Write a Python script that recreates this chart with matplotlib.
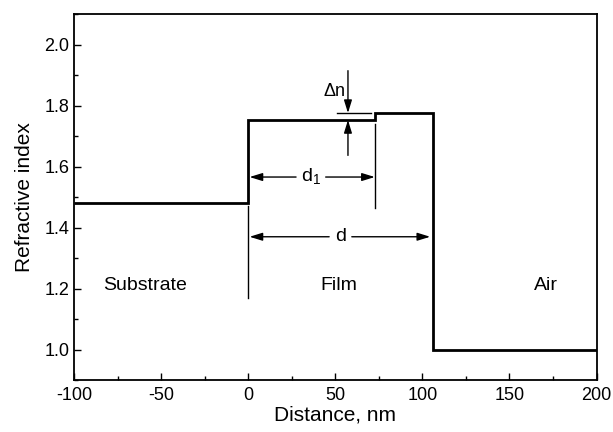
import matplotlib
matplotlib.use("Agg")
import matplotlib.pyplot as plt

plt.rcParams['font.family'] = ['Liberation Sans', 'DejaVu Sans']

# Layer boundaries (nm) and refractive index in each region
edges = [-100, 0, 73, 106, 200]
index = [1.482, 1.753, 1.776, 1.0]

d1 = 73      # thickness of the lower film sublayer, nm
d = 106      # total film thickness, nm

region_labels = ["Substrate", "Film", "Air"]
region_x = [-59, 52, 171]
region_y = 1.21

x_ticks = [-100, -50, 0, 50, 100, 150, 200]
y_ticks = [1.0, 1.2, 1.4, 1.6, 1.8, 2.0]

fig = plt.figure(figsize=(6.13, 4.32), dpi=100)
ax = fig.add_axes([0.1207, 0.1204, 0.8524, 0.8465])

ax.stairs(index, edges, baseline=None, color='black', lw=2.0)

arrow = dict(arrowstyle='-|>,head_length=0.55,head_width=0.17', color='black',
             lw=1.0, shrinkA=0, shrinkB=0, mutation_scale=14)

# thin marker lines at the film boundaries
ax.plot([0, 0], [1.168, 1.472], color='black', lw=1.0)
ax.plot([d1, d1], [1.74, 1.466], color='black', lw=1.0)

# d1 dimension arrow
y_d1 = 1.566
ax.annotate('', xy=(0.8, y_d1), xytext=(27.5, y_d1), arrowprops=arrow)
ax.annotate('', xy=(d1 - 0.3, y_d1), xytext=(44.5, y_d1), arrowprops=arrow)
ax.text(36, y_d1, 'd$_{\\mathregular{1}}$', ha='center', va='center', fontsize=14)

# d dimension arrow
y_d = 1.370
ax.annotate('', xy=(0.8, y_d), xytext=(46.5, y_d), arrowprops=arrow)
ax.annotate('', xy=(d - 1.5, y_d), xytext=(59.5, y_d), arrowprops=arrow)
ax.text(53.3, y_d, 'd', ha='center', va='center', fontsize=14)

# index step between the two sublayers
ax.plot([50.8, 70.8], [index[2], index[2]], color='black', lw=1.0)
ax.annotate('', xy=(57.3, index[2]), xytext=(57.3, 1.915), arrowprops=arrow)
ax.annotate('', xy=(57.3, index[1]), xytext=(57.3, 1.637), arrowprops=arrow)
ax.text(49.5, 1.847, '\u0394n', ha='center', va='center', fontsize=13)

for lab, xx in zip(region_labels, region_x):
    ax.text(xx, region_y, lab, ha='center', va='center', fontsize=14)

ax.set_xlim(-100, 200)
ax.set_ylim(0.9, 2.1)
ax.set_xticks(x_ticks)
ax.set_xticklabels([str(v) for v in x_ticks])
ax.set_yticks(y_ticks)
ax.set_yticklabels([f"{v:.1f}" for v in y_ticks])
ax.set_xticks([v + 25 for v in x_ticks[:-1]], minor=True)
ax.set_yticks([0.9 + 0.2 * i for i in range(6)] + [2.1], minor=True)

ax.tick_params(which='both', direction='in', top=False, right=False, width=1.0,
               labelsize=13)
ax.tick_params(which='major', length=5)
ax.tick_params(which='minor', length=3)
ax.tick_params(axis='x', pad=5)
for s in ax.spines.values():
    s.set_linewidth(1.3)

ax.set_xlabel('Distance, nm', fontsize=15, labelpad=1)
ax.set_ylabel('Refractive index', fontsize=15, labelpad=7)

fig.savefig('out.png', dpi=100)
